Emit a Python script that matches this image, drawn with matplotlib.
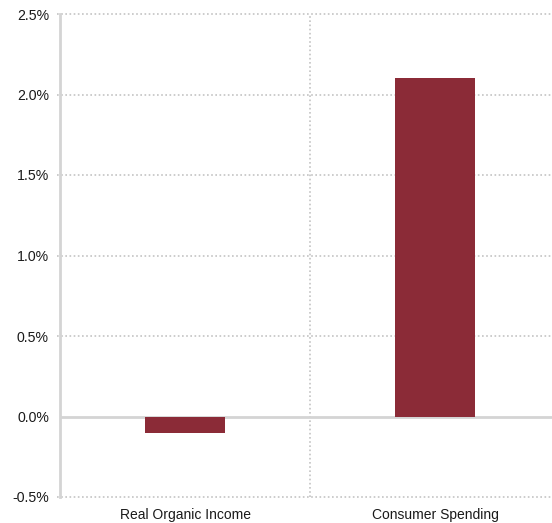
import matplotlib.pyplot as plt
from matplotlib.ticker import FuncFormatter

plt.rcParams['font.family'] = ['Liberation Sans', 'DejaVu Sans']

categories = ['Real Organic Income', 'Consumer Spending']
values = [-0.1, 2.1]
yticks = [-0.5, 0.0, 0.5, 1.0, 1.5, 2.0, 2.5]

W, H = 552, 523
fig = plt.figure(figsize=(W / 100, H / 100), dpi=100)
ax = fig.add_axes([60 / W, (H - 497) / H, 500 / W, (497 - 14) / H])

x = range(len(categories))
ax.bar(x, values, width=0.32, color='#8b2b37', zorder=3)

ax.set_xlim(-0.5, 1.5)
ax.set_ylim(-0.5, 2.5)
ax.set_yticks(yticks)
ax.yaxis.set_major_formatter(FuncFormatter(lambda v, p: f'{v:.1f}%'))
ax.set_xticks(list(x))
ax.set_xticklabels(categories)

# dotted grid
for t in yticks:
    if t != 0:
        ax.axhline(t, xmin=-0.006, color='#c4c4c4', linestyle=(0, (1, 1.5)),
                   linewidth=1.2, zorder=1, clip_on=False)
ax.axvline(0.5, color='#c4c4c4', linestyle=(0, (1, 1.5)), linewidth=1.2, zorder=1)
ax.axhline(0, color='#d4d4d4', linewidth=2, zorder=2)

for s in ['top', 'right', 'bottom']:
    ax.spines[s].set_visible(False)
ax.spines['left'].set_color('#d4d4d4')
ax.spines['left'].set_linewidth(2)

ax.tick_params(axis='y', length=0, pad=8, labelsize=10.2, colors='#1a1a1a')
ax.tick_params(axis='x', length=0, pad=8, labelsize=10, colors='#1a1a1a')

fig.savefig('out.png', dpi=100)
